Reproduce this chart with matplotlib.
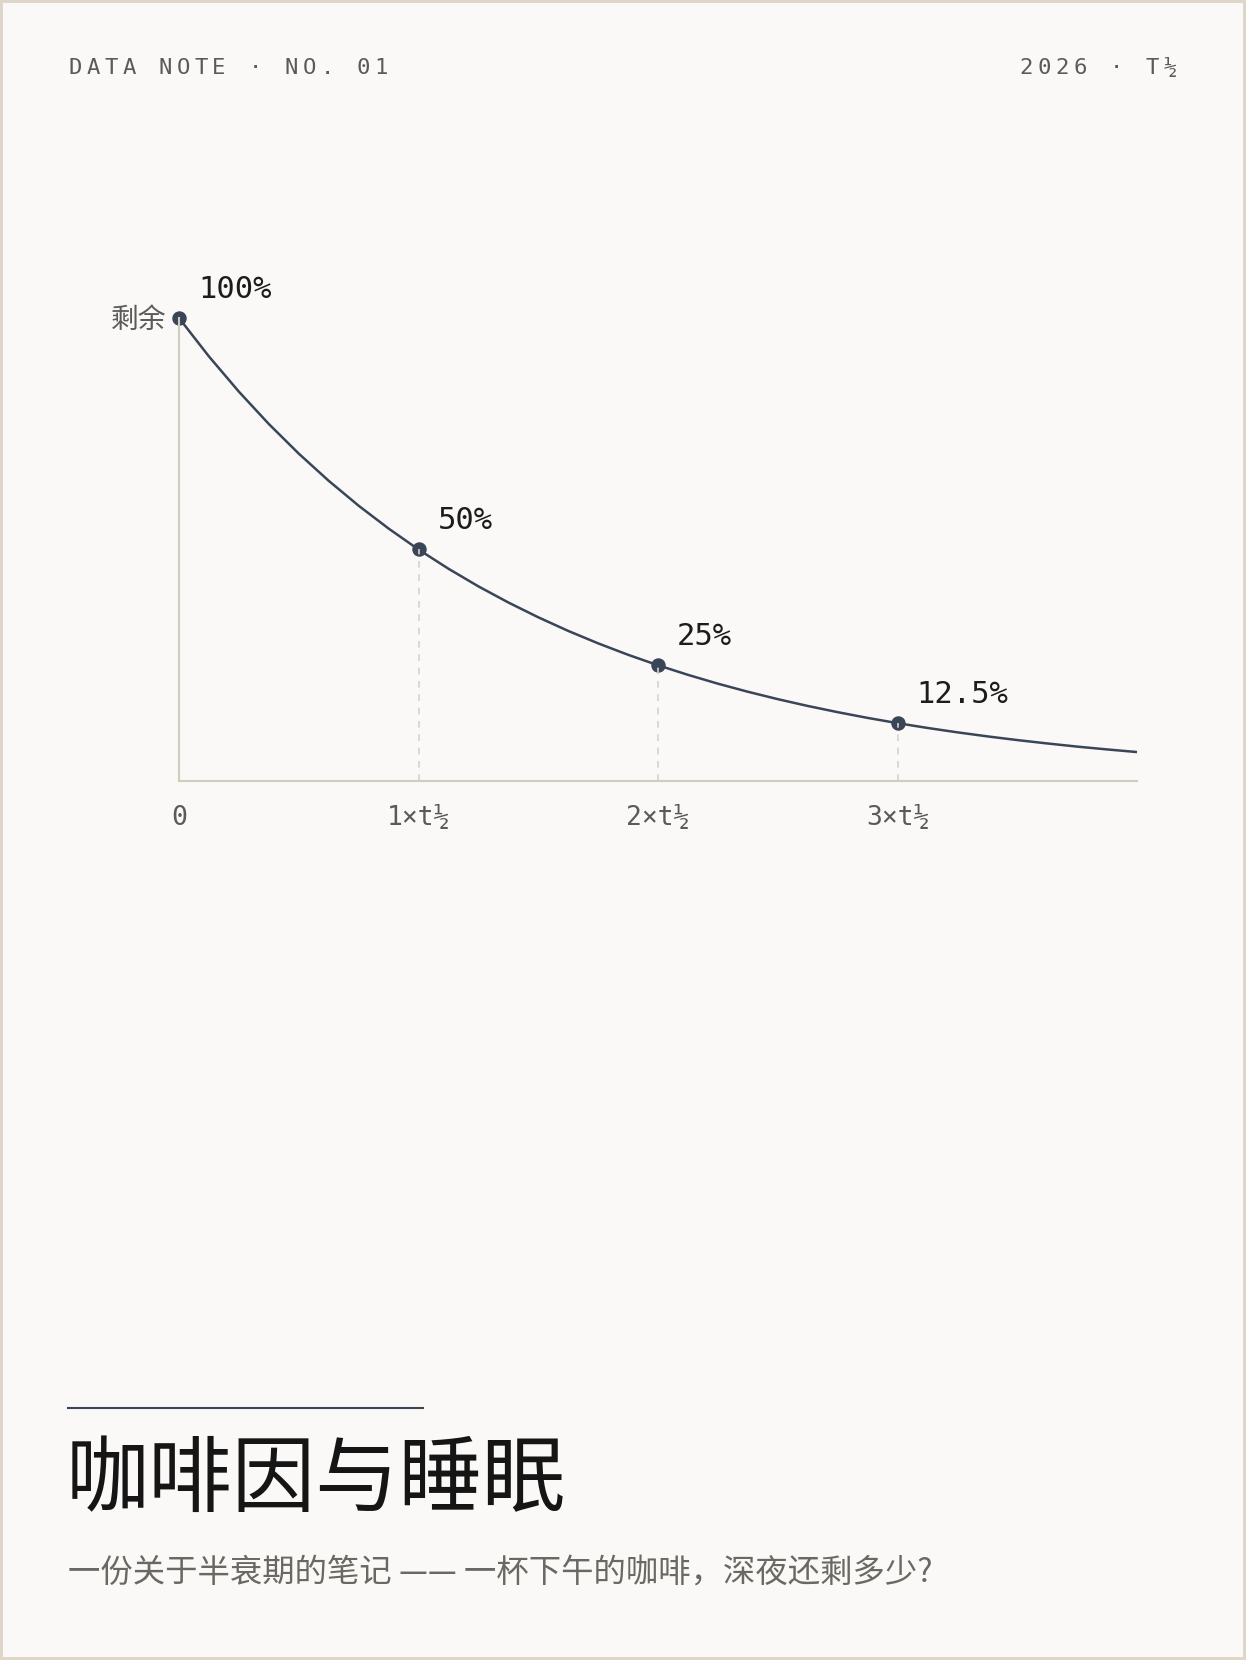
import matplotlib.pyplot as plt
from matplotlib.patches import Rectangle
from matplotlib.lines import Line2D

# Data: caffeine remaining after n half-lives
half_lives = [0, 1, 2, 3]
remaining = [100, 50, 25, 12.5]
value_labels = ['100%', '50%', '25%', '12.5%']
tick_labels = ['0', '1×t½', '2×t½', '3×t½']

# curve samples (eighth half-life steps)
curve_t = [0, 0.125, 0.25, 0.375, 0.5, 0.625, 0.75, 0.875,
           1, 1.125, 1.25, 1.375, 1.5, 1.625, 1.75, 1.875,
           2, 2.125, 2.25, 2.375, 2.5, 2.625, 2.75, 2.875,
           3, 3.125, 3.25, 3.375, 3.5, 3.625, 3.75, 3.875, 4]
curve_pct = [100, 91.70, 84.09, 77.11, 70.71, 64.84, 59.46, 54.53,
             50, 45.85, 42.04, 38.56, 35.36, 32.42, 29.73, 27.26,
             25, 22.93, 21.02, 19.28, 17.68, 16.21, 14.87, 13.63,
             12.5, 11.46, 10.51, 9.64, 8.84, 8.11, 7.43, 6.82, 6.25]

header_left = 'DATA NOTE · NO. 01'
header_right = '2026 · T½'
y_label = '剩余'
title = '咖啡因与睡眠'
subtitle = '一份关于半衰期的笔记 —— 一杯下午的咖啡，深夜还剩多少?'

# Styling
W, H = 1246, 1660
bg = '#faf9f7'
border = '#ddd6c9'
ink = '#3a4658'
axis_col = '#cfcdbf'
dash_col = '#d9d3c7'
grey = '#5a5a5a'
mono = 'DejaVu Sans Mono'
cjk = ['Noto Sans CJK SC', 'DejaVu Sans']


def px(x, y):
    """pixel position (from top-left) -> figure fraction"""
    return x / W, 1 - y / H


fig = plt.figure(figsize=(W / 100, H / 100), dpi=100, facecolor=bg)

# page border
fig.add_artist(Rectangle((0, 0), 1, 1, transform=fig.transFigure,
                         fill=False, edgecolor=border, linewidth=4.3))

# header with letter spacing
pitch = 18
for i, ch in enumerate(header_left):
    fig.text(*px(75 + i * pitch, 68), ch, family=mono, fontsize=16,
             color=grey, ha='center', va='center')
n = len(header_right)
for i, ch in enumerate(header_right):
    fig.text(*px(1170 - (n - 1 - i) * pitch, 68), ch, family=mono,
             fontsize=16, color=grey, ha='center', va='center')

# chart area
x0, x1, ytop, ybot = 179, 1137, 318, 781
ax = fig.add_axes([x0 / W, 1 - ybot / H, (x1 - x0) / W, (ybot - ytop) / H])
ax.set_facecolor('none')
ax.set_xlim(0, 4)
ax.set_ylim(0, 100)

ax.plot(curve_t, curve_pct, color=ink, lw=1.8, clip_on=False,
        solid_capstyle='butt', solid_joinstyle='round', zorder=3)
ax.plot(half_lives, remaining, 'o', ms=9.4, color=ink, clip_on=False, zorder=3)
ax.vlines(half_lives[1:], 0, remaining[1:], colors=dash_col, lw=1.2,
          linestyles=(0, (4, 4)), zorder=4)

for t, v, lab in zip(half_lives, remaining, value_labels):
    ax.annotate(lab, xy=(t, v), xytext=(19, 29), textcoords='offset pixels',
                family=mono, fontsize=22, color='#1c1c1c',
                ha='left', va='center', annotation_clip=False)

ax.annotate(y_label, xy=(0, 100), xytext=(-13, -2), textcoords='offset pixels',
            family=cjk, fontsize=20, color=grey, ha='right', va='center',
            annotation_clip=False)

for side in ['top', 'right']:
    ax.spines[side].set_visible(False)
for side in ['left', 'bottom']:
    ax.spines[side].set_color(axis_col)
    ax.spines[side].set_linewidth(1.5)
    ax.spines[side].set_zorder(5)

ax.set_xticks(half_lives)
ax.set_xticklabels(tick_labels, family=mono)
ax.set_yticks([])
ax.tick_params(axis='x', length=0, pad=17, labelsize=19, labelcolor=grey)

# title block
fig.add_artist(Line2D([68 / W, 423 / W], [1 - 1408 / H] * 2, color=ink,
                      lw=1.5, transform=fig.transFigure))
fig.text(*px(66, 1481), title, family=cjk, fontsize=60, color='#151515',
         ha='left', va='center')
fig.text(*px(68, 1573), subtitle, family=cjk, fontsize=23.3, color='#6b6762',
         ha='left', va='center')

fig.savefig('out.png', dpi=100, facecolor=bg)
